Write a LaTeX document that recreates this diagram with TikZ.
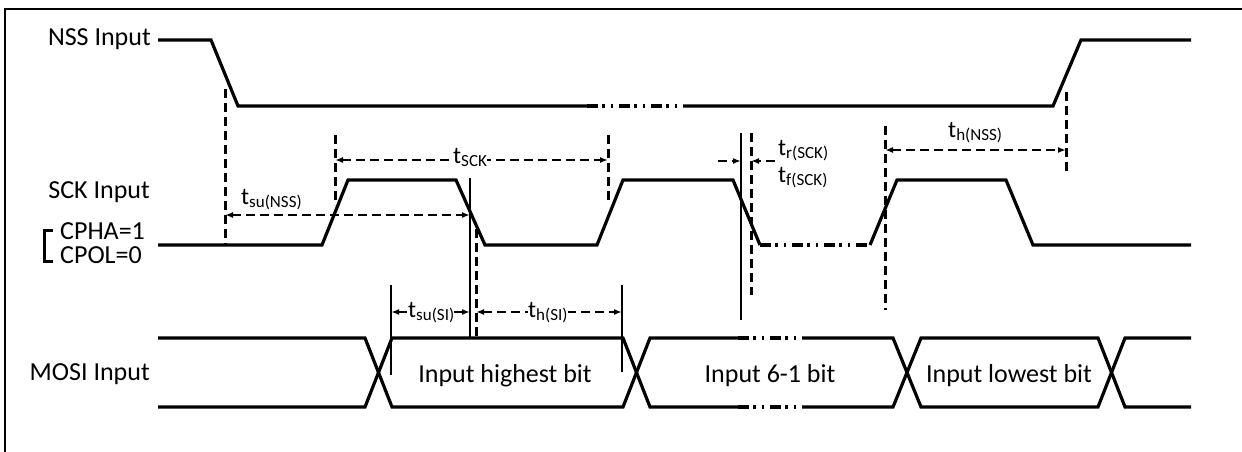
\documentclass[tikz,border=0pt]{standalone}
\usepackage{fontspec}
\setmainfont{Carlito}
\usetikzlibrary{arrows.meta}

\newcommand{\tdim}[1]{t\raisebox{-3pt}{\fontsize{17}{17}\selectfont #1}}

\tikzset{
    sig/.style = {line width=3.2pt},
    brk/.style = {line width=3.4pt, dash pattern=on 11pt off 4pt on 2.5pt off 6pt on 2.5pt off 6pt},
    guide/.style = {line width=3pt, dash pattern=on 9pt off 5pt},
    cut/.style = {line width=2.4pt},
    dimarrow/.style = {line width=2.6pt, dash pattern=on 9pt off 5pt, >={Latex[length=8pt,width=6pt]}},
    txt/.style = {inner sep=0pt, font=\fontsize{26}{30}\selectfont},
    tlbl/.style = {inner sep=0pt, font=\fontsize{24}{28}\selectfont}
}

\begin{document}
\begin{tikzpicture}[x=1pt,y=-1pt]
    \useasboundingbox (0,0) rectangle (1242,452);
    \draw [line width=2.4pt] (5,452) -- (5,9) -- (1242,9);

    \node [txt, anchor=base east] (nss) at (151,46) {NSS Input};
    \node [txt, anchor=base east] (sck) at (150,198) {SCK Input};
    \node [txt, anchor=base west] (cpha) at (60,239) {CPHA=1};
    \node [txt, anchor=base west] (cpol) at (60,263) {CPOL=0};
    \node [txt, anchor=base east] (mosi) at (150,380) {MOSI Input};
    \draw [line width=3pt] (53,230) -- (44,230) -- (44,261) -- (53,261);

    \draw [sig] (158,40) -- (211,40) -- (238,106) -- (587,106);
    \draw [brk] (587,106) -- (683,106);
    \draw [sig] (683,106) -- (1053,106) -- (1081,40) -- (1191,40);

    \draw [sig] (158,245) -- (322,245) -- (348,180) -- (456,180) -- (485,245) -- (597,245) -- (623,180) -- (733,180) -- (760,245);
    \draw [brk] (760,245) -- (870,245);
    \draw [sig] (870,245) -- (897,180) -- (1006,180) -- (1033,245) -- (1191,245);

    \draw [sig] (158,338) -- (365,338) -- (392,407) -- (623,407) -- (650,338) -- (738,338);
    \draw [sig] (158,407) -- (365,407) -- (392,338) -- (623,338) -- (650,407) -- (738,407);
    \draw [brk] (738,338) -- (802,338);
    \draw [brk] (738,407) -- (802,407);
    \draw [sig] (802,338) -- (893,338) -- (921,407) -- (1098,407) -- (1125,338) -- (1191,338);
    \draw [sig] (802,407) -- (893,407) -- (921,338) -- (1098,338) -- (1125,407) -- (1191,407);

    \node [txt, anchor=base] (bit7) at (505,382) {Input highest bit};
    \node [txt, anchor=base] (bits) at (770,382) {Input 6-1 bit};
    \node [txt, anchor=base] (bit0) at (1009,382) {Input lowest bit};

    \draw [guide] (225,89) -- (225,245);
    \draw [cut] (470,178) -- (470,338);
    \draw [dimarrow, <->] (225,215) -- (470,215);
    \node [tlbl, anchor=base west] (tsunss) at (241,204) {\tdim{su(NSS)}};

    \draw [guide] (335,135) -- (335,205);
    \draw [guide] (608,135) -- (608,202);
    \draw [dimarrow, <->] (335,160) -- (608,160);
    \node [tlbl, fill=white, anchor=base west] (tsck) at (453,163) {\tdim{SCK}};

    \draw [cut] (391,285) -- (391,375);
    \draw [guide] (476,229) -- (476,338);
    \draw [dimarrow, <->] (391,312) -- (470,312);
    \node [tlbl, fill=white, anchor=base west] (tsusi) at (408,317) {\tdim{su(SI)}};

    \draw [cut] (622,285) -- (622,372);
    \draw [dimarrow, <->] (476,312) -- (622,312);
    \node [tlbl, fill=white, anchor=base west] (thsi) at (528,317) {\tdim{h(SI)}};

    \draw [cut] (741,133) -- (741,320);
    \draw [guide] (751,133) -- (751,295);
    \draw [dimarrow, ->] (718,161) -- (741,161);
    \draw [dimarrow, ->] (775,161) -- (751,161);
    \node [tlbl, anchor=base west] (trsck) at (778,155) {\tdim{r(SCK)}};
    \node [tlbl, anchor=base west] (tfsck) at (778,182) {\tdim{f(SCK)}};

    \draw [guide] (885,126) -- (885,310);
    \draw [guide] (1066,92) -- (1066,174);
    \draw [dimarrow, <->] (885,150) -- (1066,150);
    \node [tlbl, anchor=base west] (thnss) at (948,137) {\tdim{h(NSS)}};
\end{tikzpicture}
\end{document}
